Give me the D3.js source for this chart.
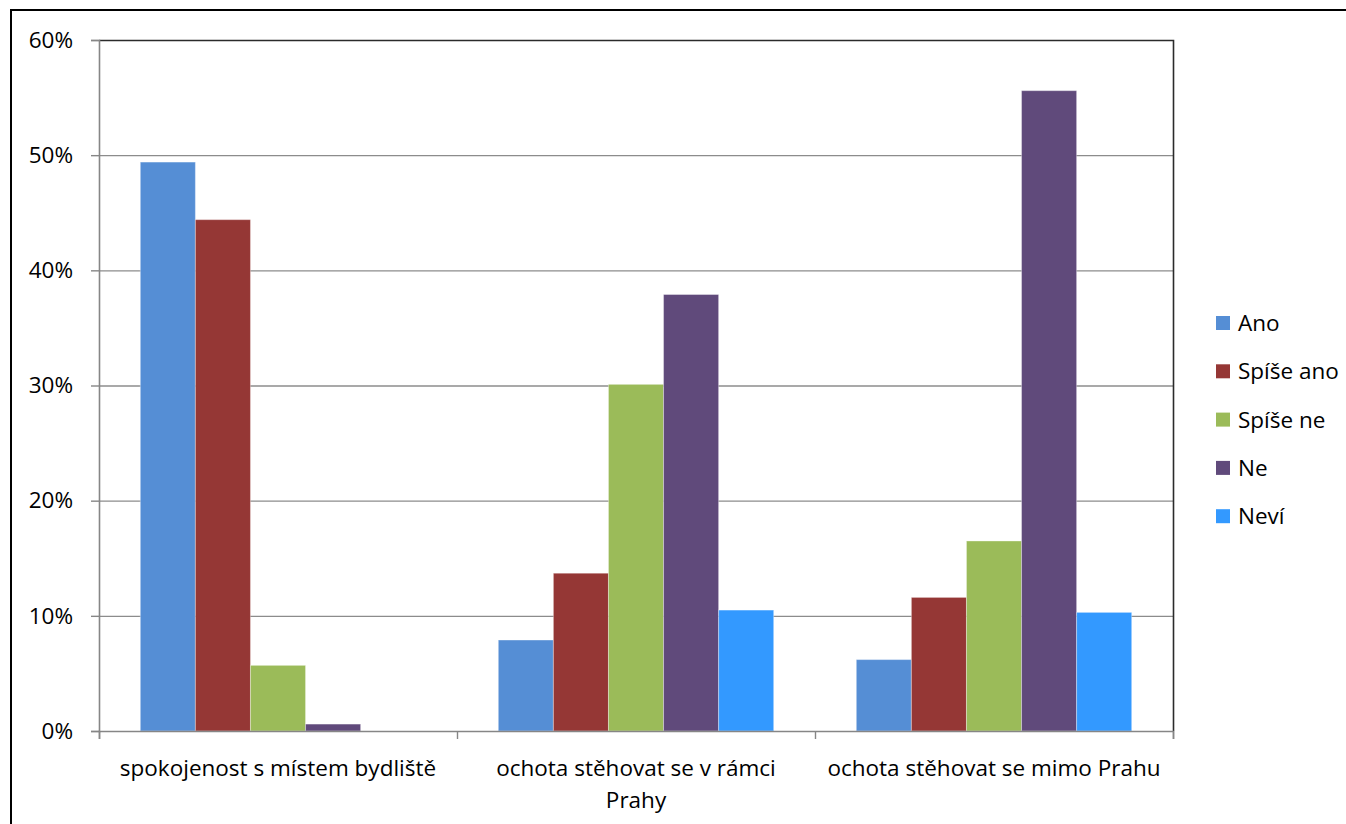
<!DOCTYPE html>
<html><head><meta charset="utf-8">
<script src="https://cdn.jsdelivr.net/npm/d3@7"></script>
<style>body{margin:0;background:#fff;}svg{display:block;}text{font-family:"Open Sans",sans-serif;fill:#000;}</style>
</head><body>
<svg id="c" width="1346" height="824"></svg>
<script>
const categories = [["spokojenost s místem bydliště"], ["ochota stěhovat se v rámci", "Prahy"], ["ochota stěhovat se mimo Prahu"]];
const seriesNames = ["Ano", "Spíše ano", "Spíše ne", "Ne", "Neví"];
const seriesColors = ["#558ed5", "#953735", "#9bbb59", "#604a7b", "#3399ff"];
const valAno = [49.4, 7.9, 6.2];
const valSpiseAno = [44.4, 13.7, 11.6];
const valSpiseNe = [5.7, 30.1, 16.5];
const valNe = [0.6, 37.9, 55.6];
const valNevi = [0, 10.5, 10.3];
const yTicks = [0, 10, 20, 30, 40, 50, 60];

const series = [valAno, valSpiseAno, valSpiseNe, valNe, valNevi];
const svg = d3.select("#c");
const L = 99, R = 1173, T = 40, B = 731;
const FS = 22.5;

// outer frame
svg.append("rect").attr("x", 11).attr("y", 10).attr("width", 1346).attr("height", 900)
  .attr("fill", "none").attr("stroke", "#000").attr("stroke-width", 2);

const x0 = d3.scaleBand().domain(d3.range(categories.length)).range([L, R]).paddingInner(0).paddingOuter(0);
const gapRatio = 1.5;
const y = d3.scaleLinear().domain([0, 60]).range([B, T]);

// gridlines
svg.append("g").selectAll("line").data(yTicks.filter(t => t > 0 && t < 60)).join("line")
  .attr("x1", L).attr("x2", R).attr("y1", d => y(d) + 0.5).attr("y2", d => y(d) + 0.5)
  .attr("stroke", "#8c8c8c").attr("stroke-width", 1.3);

// bars
const bw = x0.bandwidth() / (series.length + gapRatio);
const x1 = d3.scaleBand().domain(d3.range(series.length))
  .range([bw * gapRatio / 2, x0.bandwidth() - bw * gapRatio / 2]).padding(0);
series.forEach((vals, si) => {
  svg.append("g").selectAll("rect").data(vals).join("rect")
    .attr("x", (d, i) => x0(i) + x1(si))
    .attr("y", d => y(d))
    .attr("width", x1.bandwidth())
    .attr("height", d => B - y(d))
    .attr("fill", seriesColors[si])
    .attr("stroke", d => d > 0 ? "rgba(255,255,255,0.35)" : "none").attr("stroke-width", 1);
});

// plot border top/right
svg.append("path").attr("d", `M${L},${T + 0.5}H${R + 0.5}V${B}`).attr("fill", "none").attr("stroke", "#2b2b2b").attr("stroke-width", 1.6);

// y axis
const yAxis = svg.append("g").attr("transform", `translate(${L},0)`)
  .call(d3.axisLeft(y).tickValues(yTicks).tickSize(8).tickFormat(d => d + "%"));
yAxis.attr("font-size", null).attr("font-family", null);
yAxis.select(".domain").attr("stroke", "#868686").attr("stroke-width", 1.6);
yAxis.selectAll(".tick line").attr("stroke", "#868686").attr("stroke-width", 1.4);
yAxis.selectAll(".tick text").attr("x", -26).style("font-size", FS + "px").attr("fill", "#000");

// x axis
const xs = d3.scaleLinear().domain([0, 3]).range([L, R]);
const xAxis = svg.append("g").attr("transform", `translate(0,${B})`)
  .call(d3.axisBottom(xs).tickValues([0, 1, 2, 3]).tickSize(8).tickFormat(""));
xAxis.select(".domain").attr("stroke", "#868686").attr("stroke-width", 1.6);
xAxis.selectAll(".tick line").attr("stroke", "#868686").attr("stroke-width", 1.4);

// category labels
categories.forEach((lines, i) => {
  const cx = x0(i) + x0.bandwidth() / 2;
  const t = svg.append("text").attr("x", cx).attr("y", 776)
    .attr("text-anchor", "middle").style("font-size", FS + "px");
  lines.forEach((ln, j) => t.append("tspan").attr("x", cx).attr("dy", j === 0 ? 0 : 32).text(ln));
});

// legend
const lg = svg.append("g");
seriesNames.forEach((n, i) => {
  const cy = 323 + i * 48.3;
  lg.append("rect").attr("x", 1216).attr("y", cy - 7).attr("width", 14).attr("height", 14).attr("fill", seriesColors[i]);
  lg.append("text").attr("x", 1238).attr("y", cy + 8).style("font-size", FS + "px").text(n);
});
</script>
</body></html>
